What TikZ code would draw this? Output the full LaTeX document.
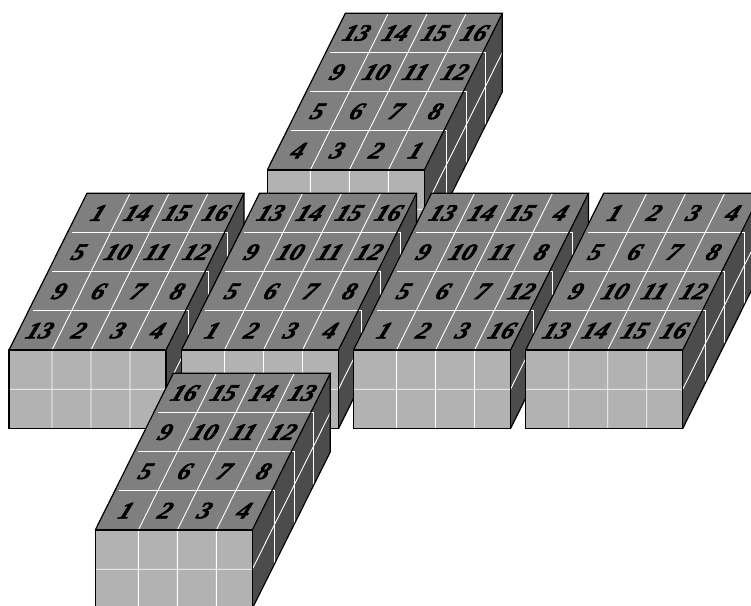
\documentclass[tikz,border=0pt]{standalone}
\usepackage{fontspec}
\setmainfont{Liberation Serif}[BoldItalicFeatures={FakeBold=2.2}]
\usepackage{xcolor}
\definecolor{facetop}{HTML}{7F7F7F}
\definecolor{facefront}{HTML}{B2B2B2}
\definecolor{faceside}{HTML}{4C4C4C}

\newcommand{\slab}[4]{
  \begin{scope}[shift={(#2,#3)}]
    \fill[facefront] (0,0) rectangle (157,78.5);
    \fill[facetop] (0,0) -- (78,-156.7) -- (235,-156.7) -- (157,0) -- cycle;
    \fill[faceside] (157,0) -- (235,-156.7) -- (235,-78.2) -- (157,78.5) -- cycle;
    \foreach \c in {43,82,121} {
      \draw[gridline] (\c,78.5) -- (\c,0) -- ++(78,-156.7);
    }
    \foreach \r in {1,2,3} {
      \draw[gridline] ({19.5*\r+4},{-39.2*\r}) -- ({160+19.5*\r},{-39.2*\r}) -- ({160+19.5*\r},{72.5-39*\r});
    }
    \draw[gridline] (0,39.25) -- (157,39.25) -- ++(78,-156.7);
    \draw[edgeline] (0,0) rectangle (157,78.5);
    \draw[edgeline] (0,0) -- (78,-156.7) -- (235,-156.7) -- (157,0);
    \draw[edgeline] (235,-156.7) -- (235,-78.2) -- (157,78.5);
    \foreach \n [count=\i from 0] in {#4} {
      \pgfmathtruncatemacro{\row}{\i/4}
      \pgfmathtruncatemacro{\col}{mod(\i,4)}
      \node[numlabel] (#1-\n) at ({68.25+21.5+39.25*\col-19.5*\row},{-137+39.2*\row}) {\n};
    }
  \end{scope}
}

\begin{document}
\begin{tikzpicture}[
    x=1pt, y=-1pt,
    gridline/.style={draw=white, line width=0.9pt},
    edgeline/.style={draw=black, line width=1.2pt, line join=miter},
    numlabel/.style={font=\fontsize{23.5}{24}\selectfont\bfseries\itshape, inner sep=0pt,
                     transform shape, xslant=0.42, xscale=1.08}
]

\clip (0,0) rectangle (751,605);

\slab{back}{267.3}{170}{13,14,15,16,9,10,11,12,5,6,7,8,4,3,2,1}
\slab{left}{9}{350}{1,14,15,16,5,10,11,12,9,6,7,8,13,2,3,4}
\slab{mid}{181.5}{350}{13,14,15,16,9,10,11,12,5,6,7,8,1,2,3,4}
\slab{right}{353.5}{350}{13,14,15,4,9,10,11,8,5,6,7,12,1,2,3,16}
\slab{far}{525.7}{350}{1,2,3,4,5,6,7,8,9,10,11,12,13,14,15,16}
\slab{front}{95.3}{530}{16,15,14,13,9,10,11,12,5,6,7,8,1,2,3,4}

\end{tikzpicture}
\end{document}
